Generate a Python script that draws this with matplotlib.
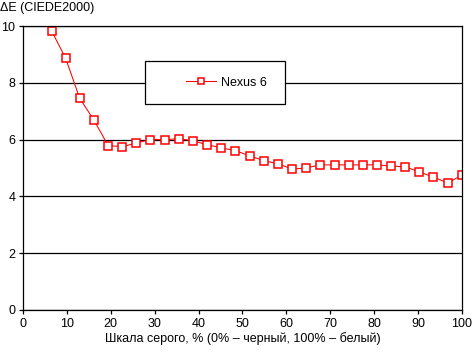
import matplotlib
matplotlib.use('Agg')
import matplotlib.pyplot as plt
from matplotlib.patches import Rectangle

plt.rcParams['font.family'] = ['Liberation Sans', 'DejaVu Sans']
plt.rcParams['font.size'] = 9

# grey level, % and delta E values
gray = [3.2, 6.5, 9.7, 12.9, 16.1, 19.4, 22.6, 25.8, 29.0, 32.3, 35.5, 38.7,
        41.9, 45.2, 48.4, 51.6, 54.8, 58.1, 61.3, 64.5, 67.7, 71.0, 74.2,
        77.4, 80.6, 83.9, 87.1, 90.3, 93.5, 96.8, 100.0]
delta_e = [12.0, 9.83, 8.87, 7.46, 6.70, 5.79, 5.75, 5.88, 6.00, 6.00, 6.03,
           5.96, 5.82, 5.71, 5.61, 5.43, 5.26, 5.15, 4.96, 5.00, 5.11, 5.11,
           5.11, 5.11, 5.11, 5.07, 5.04, 4.86, 4.68, 4.47, 4.76]
series_name = 'Nexus 6'
x_ticks = [0, 10, 20, 30, 40, 50, 60, 70, 80, 90, 100]
y_ticks = [0, 2, 4, 6, 8, 10]

fig = plt.figure(figsize=(4.72, 3.52), dpi=100)
ax = fig.add_axes([23 / 472, 42 / 352, 439 / 472, 284 / 352])

ax.plot(gray, delta_e, c='red', lw=0.75, marker='s', ms=5.2,
        mfc='white', mec='red', mew=1.1, label=series_name)

ax.set_xlim(0, 100)
ax.set_ylim(0, 10)
ax.set_xticks(x_ticks)
ax.set_yticks(y_ticks)
ax.yaxis.grid(True, color='black', lw=0.9)
ax.set_axisbelow(True)
for s in ax.spines.values():
    s.set_color('black')
    s.set_linewidth(0.9)
ax.tick_params(direction='out', length=3, width=0.9, pad=3)
ax.tick_params(axis='y', pad=2.5)

ax.set_xlabel('Шкала серого, % (0% – черный, 100% – белый)', labelpad=1)
fig.text(0.0, 0.995, 'ΔE (CIEDE2000)', ha='left', va='top')

# legend box
ax.add_patch(Rectangle((0.278, 0.726), 0.319, 0.150, transform=ax.transAxes,
                       facecolor='white', edgecolor='black', lw=0.9, zorder=5))
leg = ax.legend(loc='center left', bbox_to_anchor=(0.372, 0.80), frameon=False,
                borderpad=0, borderaxespad=0, handlelength=2.4,
                handletextpad=0.4, markerscale=0.85)
leg.set_zorder(6)

fig.savefig('out.png', dpi=100)
